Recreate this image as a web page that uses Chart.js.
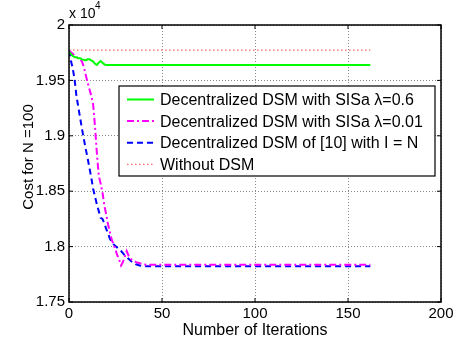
<!DOCTYPE html>
<html>
<head>
<meta charset="utf-8">
<script src="https://cdn.jsdelivr.net/npm/chart.js@4"></script>
<style>
  html, body { margin: 0; padding: 0; background: #fff; }
  #wrap { width: 461px; height: 346px; }
</style>
</head>
<body>
<div id="wrap"><canvas id="costChart" width="461" height="346"></canvas></div>
<script>
// values are in units of 1e4
let labels = ['Decentralized DSM with SISa \u03bb=0.6', 'Decentralized DSM with SISa \u03bb=0.01',
  'Decentralized DSM of [10] with I = N', 'Without DSM'];

let itGreen = [0, 1, 2, 3, 4, 5, 6, 7, 8, 9, 10, 11, 12, 13, 14, 15, 16, 17, 18, 19, 20, 162];
let costGreen = [1.976, 1.974, 1.972, 1.971, 1.971, 1.970, 1.970, 1.969, 1.9685, 1.968, 1.969, 1.969,
  1.968, 1.967, 1.965, 1.964, 1.966, 1.9675, 1.966, 1.9645, 1.964, 1.964];

let itMagenta = [0, 2, 4, 6, 7, 8, 9, 10, 11, 12, 13, 14, 15, 16, 17, 18, 19, 20, 21, 22, 23, 24, 25,
  26, 27, 28, 29, 30, 31, 32, 33, 34, 36, 38, 40, 42, 162];
let costMagenta = [1.977, 1.974, 1.971, 1.969, 1.967, 1.962, 1.955, 1.948, 1.942, 1.936, 1.928, 1.908,
  1.884, 1.864, 1.857, 1.849, 1.837, 1.829, 1.820, 1.813, 1.806, 1.802, 1.797, 1.792, 1.788, 1.783,
  1.786, 1.791, 1.796, 1.792, 1.789, 1.788, 1.786, 1.785, 1.784, 1.7836, 1.7836];

let itBlue = [0, 1, 2, 3, 4, 5, 6, 7, 8, 9, 10, 11, 12, 13, 14, 15, 16, 17, 18, 19, 20, 21, 22, 24,
  26, 28, 30, 32, 34, 36, 38, 40, 162];
let costBlue = [1.977, 1.968, 1.961, 1.951, 1.936, 1.926, 1.916, 1.906, 1.897, 1.888, 1.880, 1.871,
  1.862, 1.852, 1.845, 1.838, 1.832, 1.826, 1.825, 1.821, 1.816, 1.812, 1.807, 1.802, 1.799, 1.796,
  1.792, 1.789, 1.786, 1.784, 1.783, 1.7822, 1.7822];

let itRed = [0, 162];
let costRed = [1.9774, 1.9774];

let xTicks = [0, 50, 100, 150, 200];
let yTicks = [1.75, 1.8, 1.85, 1.9, 1.95, 2];

function pts(xs, ys) {
  return xs.map((x, i) => ({ x: x, y: ys[i] }));
}

const FONT = 'Liberation Sans, Arial, Helvetica, sans-serif';

// frame, inner ticks, exponent, axis titles and legend box (MATLAB look)
const matlabDeco = {
  id: 'matlabDeco',
  afterDatasetsDraw(chart) {
    const c = chart.ctx;
    const a = chart.chartArea;
    const xs = chart.scales.x, ys = chart.scales.y;
    c.save();
    c.strokeStyle = '#000';
    c.lineWidth = 1.5;
    c.strokeRect(a.left, a.top, a.right - a.left, a.bottom - a.top);
    c.lineWidth = 1;
    c.beginPath();
    xTicks.forEach(v => {
      let p = xs.getPixelForValue(v);
      c.moveTo(p, a.bottom); c.lineTo(p, a.bottom - 4);
      c.moveTo(p, a.top); c.lineTo(p, a.top + 4);
    });
    yTicks.forEach(v => {
      let p = ys.getPixelForValue(v);
      c.moveTo(a.left, p); c.lineTo(a.left + 4, p);
      c.moveTo(a.right, p); c.lineTo(a.right - 4, p);
    });
    c.stroke();

    // exponent label
    c.fillStyle = '#000';
    c.textBaseline = 'alphabetic';
    c.textAlign = 'left';
    c.font = '14px ' + FONT;
    c.fillText('x 10', a.left, 18);
    c.font = '10px ' + FONT;
    c.fillText('4', a.left + 26, 9);

    // axis titles
    c.font = '16px ' + FONT;
    c.textAlign = 'center';
    c.textBaseline = 'middle';
    c.fillText('Number of Iterations', (a.left + a.right) / 2, 331);
    c.save();
    c.font = '15px ' + FONT;
    c.translate(29, 157);
    c.rotate(-Math.PI / 2);
    c.fillText('Cost for N =100', 0, 0);
    c.restore();

    // legend
    const bx = 119, by = 86, bw = 316, bh = 90;
    c.fillStyle = '#fff';
    c.fillRect(bx, by, bw, bh);
    c.strokeStyle = '#000';
    c.lineWidth = 1.2;
    c.strokeRect(bx, by, bw, bh);
    c.textAlign = 'left';
    c.font = '16px ' + FONT;
    chart.data.datasets.forEach((ds, i) => {
      let yy = 99.5 + i * 21.6;
      c.strokeStyle = ds.borderColor;
      c.lineWidth = ds.borderWidth;
      c.setLineDash(ds.borderDash || []);
      c.beginPath();
      c.moveTo(127, yy); c.lineTo(154, yy);
      c.stroke();
      c.setLineDash([]);
      c.fillStyle = '#000';
      c.fillText(ds.label, 160, yy + 1);
    });
    c.restore();
  }
};

let ctx = document.getElementById('costChart').getContext('2d');

let myChart = new Chart(ctx, {
  type: 'line',
  data: {
    datasets: [{
      label: labels[0],
      data: pts(itGreen, costGreen),
      borderColor: '#00ff00',
      borderWidth: 2
    }, {
      label: labels[1],
      data: pts(itMagenta, costMagenta),
      borderColor: '#ff00ff',
      borderWidth: 2,
      borderDash: [7, 3, 2, 3]
    }, {
      label: labels[2],
      data: pts(itBlue, costBlue),
      borderColor: '#0000ff',
      borderWidth: 2,
      borderDash: [6, 4]
    }, {
      label: labels[3],
      data: pts(itRed, costRed),
      borderColor: '#ff6a6a',
      borderWidth: 1.2,
      borderDash: [1.5, 2.5]
    }]
  },
  plugins: [matlabDeco],
  options: {
    responsive: false,
    animation: false,
    layout: { padding: { top: 25, right: 20, left: 0, bottom: 0 } },
    elements: { point: { radius: 0 }, line: { tension: 0 } },
    plugins: { legend: { display: false }, tooltip: { enabled: false } },
    scales: {
      x: {
        type: 'linear',
        min: 0, max: 200,
        afterBuildTicks: (s) => { s.ticks = xTicks.map(v => ({ value: v })); },
        afterFit: (s) => { s.height = 44; },
        ticks: { color: '#000', padding: 3, font: { size: 15, family: FONT } },
        grid: { color: '#8a8a8a', drawTicks: false, lineWidth: 1 },
        border: { display: false, dash: [1, 2] }
      },
      y: {
        min: 1.75, max: 2,
        afterBuildTicks: (s) => { s.ticks = yTicks.map(v => ({ value: v })); },
        afterFit: (s) => { s.width = 69; },
        ticks: {
          color: '#000', padding: 4, font: { size: 15, family: FONT },
          callback: (v) => String(Math.round(v * 100) / 100)
        },
        grid: { color: '#8a8a8a', drawTicks: false, lineWidth: 1 },
        border: { display: false, dash: [1, 2] }
      }
    }
  }
});
</script>
</body>
</html>
